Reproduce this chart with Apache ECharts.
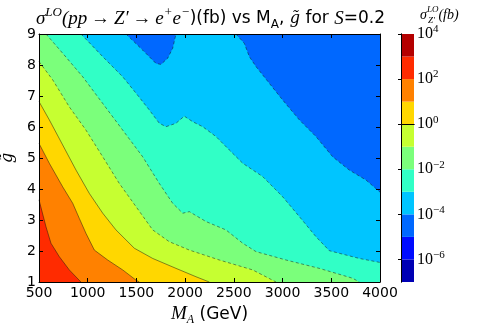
<!DOCTYPE html>
<html><head><meta charset="utf-8">
<script src="https://cdn.jsdelivr.net/npm/echarts@6/dist/echarts.min.js"></script>
<style>html,body{margin:0;padding:0;background:#fff}#main{width:491px;height:327px}</style>
</head><body><div id="main"></div>
<script>
// ---- data (M_A in GeV, g~) ----
const massRange = [500, 4000];
const gRange = [1, 9];
const bandLevels = [-7,-6,-5,-4,-3,-2,-1,0,1,2,3,4]; // log10(sigma/fb) band edges
const bandColors = ['#0000b4','#000bff','#0068ff','#00c5ff','#31ffc6','#7bff7b','#c6ff31','#ffd700','#ff8100','#ff2b00','#b40000'];
const colorbarTicks = [-6,-4,-2,0,2,4];

// contour lines (level = log10 sigma)
const contourM4a = [[1393,9],[1564,8.48],[1701,8.05],[1752,8.02],[1821,8.22],[1872,8.54],[1906,9]];
const contourM4b = [[2522,9],[2607,8.70],[2659,8.27],[2727,7.95],[2864,7.41],[3001,6.87],[3172,6.23],[3343,5.69],[3514,5.04],[3685,4.61],[3856,4.29],[4000,3.90]];
const contourM3 = [[931,9],[1154,8.27],[1359,7.62],[1496,7.09],[1632,6.55],[1735,6.12],[1804,6.01],[1906,6.12],[1991,6.35],[2078,6.17],[2180,6.01],[2317,5.69],[2453,5.26],[2591,4.83],[2796,4.40],[3001,3.75],[3172,3.11],[3343,2.46],[3480,2.01],[3651,1.87],[3788,1.76],[4000,1.63]];
const contourM2 = [[572,9],[743,8.38],[949,7.62],[1154,6.76],[1359,5.90],[1564,5.04],[1735,4.18],[1872,3.54],[1975,3.22],[2043,3.27],[2214,2.95],[2419,2.68],[2591,2.25],[2727,1.98],[3035,1.71],[3377,1.44],[3720,1.12],[3788,1]];
const contourM1 = [[500,8.11],[641,7.52],[811,6.65],[982,5.90],[1154,5.04],[1324,4.18],[1496,3.43],[1667,2.68],[1837,2.30],[2043,2.03],[2351,1.71],[2693,1.39],[2933,1]];
const contour0 = [[500,6.82],[606,6.23],[743,5.42],[880,4.61],[1016,3.86],[1154,3.22],[1290,2.68],[1478,2.09],[1667,1.76],[1906,1.44],[2111,1.17],[2248,1]];
const contour1 = [[500,5.47],[606,4.83],[743,4.07],[846,3.54],[914,3.05],[982,2.57],[1068,2.03],[1205,1.71],[1359,1.39],[1496,1.06],[1530,1]];
const contour2 = [[500,3.65],[572,2.78],[623,2.25],[708,1.82],[811,1.39],[930,1]];

const M0 = massRange[0], M1 = massRange[1], G0 = gRange[0], G1 = gRange[1];

function poly(points, color, z) {
  return {
    type: 'custom', xAxisIndex: 0, yAxisIndex: 0, silent: true, z: z, animation: false,
    data: [points[0]],
    renderItem: function (params, api) {
      return { type: 'polygon', shape: { points: points.map(p => api.coord(p)) }, style: { fill: color } };
    }
  };
}
function line(points, dashed) {
  return {
    type: 'line', xAxisIndex: 0, yAxisIndex: 0, data: points, symbol: 'none', silent: true, z: 20, animation: false,
    lineStyle: { color: 'rgba(20,20,20,0.6)', width: 0.8, type: dashed ? [3, 2.5] : 'solid' }
  };
}

const series = [
  poly([[M0,G0],[M1,G0],[M1,G1],[M0,G1]], bandColors[3], 1),
  poly(contourM4a, bandColors[2], 2),
  poly(contourM4b.concat([[M1,G1]]), bandColors[2], 2),
  poly(contourM3.concat([[M1,G0],[M0,G0],[M0,G1]]), bandColors[4], 3),
  poly(contourM2.concat([[M0,G0],[M0,G1]]), bandColors[5], 4),
  poly(contourM1.concat([[M0,G0]]), bandColors[6], 5),
  poly(contour0.concat([[M0,G0]]), bandColors[7], 6),
  poly(contour1.concat([[M0,G0]]), bandColors[8], 7),
  poly(contour2.concat([[M0,G0]]), bandColors[9], 8),
  line(contourM4a, true), line(contourM4b, true), line(contourM3, true),
  line(contourM2, true), line(contourM1, true),
  line(contour0, false), line(contour1, false), line(contour2, false),
  {
    type: 'custom', xAxisIndex: 2, yAxisIndex: 2, silent: true, animation: false,
    data: bandColors.map((c, i) => [0, bandLevels[i], bandLevels[i + 1]]),
    encode: { x: 0, y: [1, 2] },
    renderItem: function (params, api) {
      const p1 = api.coord([0, api.value(2)]);
      const p2 = api.coord([1, api.value(1)]);
      return { type: 'rect', shape: { x: p1[0], y: p1[1], width: p2[0] - p1[0], height: p2[1] - p1[1] },
        style: { fill: bandColors[params.dataIndex] } };
    }
  }
];

const axLine = { show: true, lineStyle: { color: '#000', width: 1 } };
const tickIn = { show: true, inside: true, length: 4, lineStyle: { color: '#000', width: 1 } };
const serif = 'Liberation Serif';
const sans = 'DejaVu Sans';
const st = (o) => Object.assign({ color: '#000', fontWeight: 'normal' }, o);

const option = {
  backgroundColor: '#fff',
  animation: false,
  title: [
    {
      left: 31, top: 1,
      text: '{s|σ}{sup|LO}{m|(pp\u2009→\u2009Z′\u2009→\u2009e}{sup|+}{m|e}{sup|−}{n|)(fb) vs M}{sub|A}{n|, }{g|g̃}{n| for }{m|S}{n|=0.2}',
      textStyle: {
        fontWeight: 'normal',
        rich: {
          s: st({ fontFamily: serif, fontStyle: 'italic', fontSize: 19, lineHeight: 25 }),
          m: st({ fontFamily: serif, fontStyle: 'italic', fontSize: 19, lineHeight: 25 }),
          g: st({ fontFamily: 'DejaVu Serif', fontStyle: 'italic', fontSize: 16, lineHeight: 25 }),
          n: st({ fontFamily: sans, fontSize: 17, lineHeight: 25 }),
          sup: st({ fontFamily: serif, fontStyle: 'italic', fontSize: 13, lineHeight: 14, verticalAlign: 'top' }),
          sub: st({ fontFamily: sans, fontSize: 12, lineHeight: 12, verticalAlign: 'bottom' })
        }
      }
    },
    {
      left: 415, top: 0,
      text: '{s|σ}{sup|LO}{n|(fb)}',
      textStyle: {
        fontWeight: 'normal',
        rich: {
          s: st({ fontFamily: serif, fontStyle: 'italic', fontSize: 14, lineHeight: 20 }),
          n: st({ fontFamily: serif, fontStyle: 'italic', fontSize: 14, lineHeight: 20 }),
          sup: st({ fontFamily: serif, fontStyle: 'italic', fontSize: 9, lineHeight: 11, verticalAlign: 'top' })
        }
      }
    },
    {
      left: 423, top: 11,
      text: 'Z′',
      textStyle: st({ fontFamily: serif, fontStyle: 'italic', fontSize: 9 })
    }
  ],
  grid: [
    { left: 39, right: 111, top: 34, bottom: 45, containLabel: false, outerBoundsMode: 'none' },
    { left: 401, right: 77, top: 34, bottom: 45, containLabel: false, outerBoundsMode: 'none' }
  ],
  xAxis: [
    {
      gridIndex: 0, type: 'value', min: M0, max: M1, interval: 500, position: 'bottom', z: 30,
      axisLine: axLine, axisTick: tickIn, splitLine: { show: false },
      axisLabel: { color: '#000', fontFamily: sans, fontSize: 14, margin: 4, formatter: v => String(v) },
      name: '{m|M}{sub|A}{n| (GeV)}', nameLocation: 'middle', nameGap: 19,
      nameTextStyle: {
        rich: {
          m: st({ fontFamily: serif, fontStyle: 'italic', fontSize: 19, lineHeight: 22 }),
          sub: st({ fontFamily: serif, fontStyle: 'italic', fontSize: 12, lineHeight: 12, verticalAlign: 'bottom' }),
          n: st({ fontFamily: sans, fontSize: 17, lineHeight: 22 })
        }
      }
    },
    {
      gridIndex: 0, type: 'value', min: M0, max: M1, interval: 500, position: 'top', z: 30,
      axisLine: axLine, axisTick: tickIn, splitLine: { show: false }, axisLabel: { show: false }
    },
    {
      gridIndex: 1, type: 'value', min: 0, max: 1, position: 'bottom', z: 30,
      axisLine: axLine, axisTick: { show: false }, splitLine: { show: false }, axisLabel: { show: false }
    },
    {
      gridIndex: 1, type: 'value', min: 0, max: 1, position: 'top', z: 30,
      axisLine: axLine, axisTick: { show: false }, splitLine: { show: false }, axisLabel: { show: false }
    }
  ],
  yAxis: [
    {
      gridIndex: 0, type: 'value', min: G0, max: G1, interval: 1, position: 'left', z: 30,
      axisLine: axLine, axisTick: tickIn, splitLine: { show: false },
      axisLabel: { color: '#000', fontFamily: sans, fontSize: 14, margin: 3 },
      name: 'g̃', nameLocation: 'middle', nameGap: 23, nameRotate: 90,
      nameTextStyle: st({ fontFamily: 'DejaVu Serif', fontStyle: 'italic', fontSize: 16 })
    },
    {
      gridIndex: 0, type: 'value', min: G0, max: G1, interval: 1, position: 'right', z: 30,
      axisLine: axLine, axisTick: tickIn, splitLine: { show: false }, axisLabel: { show: false }
    },
    {
      gridIndex: 1, type: 'value', min: bandLevels[0], max: bandLevels[bandLevels.length - 1], position: 'right', z: 30,
      axisLine: axLine,
      axisTick: { show: true, inside: true, length: 3, customValues: colorbarTicks, lineStyle: { color: '#000' } },
      splitLine: { show: false },
      axisLabel: {
        customValues: colorbarTicks, margin: 3,
        formatter: v => '{b|10}{p|' + (v < 0 ? '−' + (-v) : v) + '}',
        rich: {
          b: st({ fontFamily: serif, fontSize: 16, lineHeight: 20 }),
          p: st({ fontFamily: serif, fontSize: 11, lineHeight: 12, verticalAlign: 'top' })
        }
      }
    },
    {
      gridIndex: 1, type: 'value', min: bandLevels[0], max: bandLevels[bandLevels.length - 1], position: 'left', z: 30,
      axisLine: axLine, axisTick: { show: false }, splitLine: { show: false }, axisLabel: { show: false }
    }
  ],
  series: series
};
const chart = echarts.init(document.getElementById('main'), null, { renderer: 'canvas' });
chart.setOption(option);
</script>
</body></html>
